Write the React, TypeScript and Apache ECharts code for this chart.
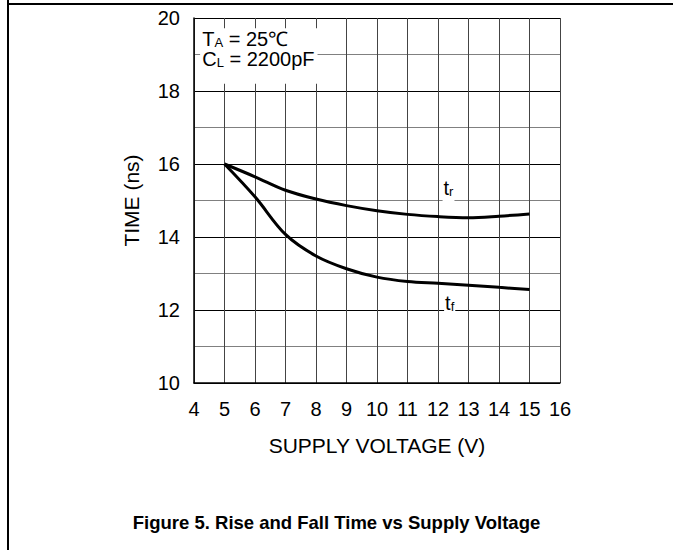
import React, { useEffect, useRef } from 'react';
import * as echarts from 'echarts';

const xMin = 4;
const xMax = 16;
const yMin = 10;
const yMax = 20;
const yTickLabels = [10, 12, 14, 16, 18, 20];

const trData: [number, number][] = [
  [5, 16], [6, 15.65], [7, 15.28], [8, 15.04], [9, 14.86], [10, 14.72],
  [11, 14.62], [12, 14.56], [13, 14.53], [14, 14.57], [15, 14.63],
];
const tfData: [number, number][] = [
  [5, 16], [6, 15.1], [7, 14.07], [8, 13.48], [9, 13.13], [10, 12.9],
  [11, 12.78], [12, 12.73], [13, 12.68], [14, 12.62], [15, 12.56],
];

const titleText = 'Figure 5. Rise and Fall Time vs Supply Voltage';
const xName = 'SUPPLY VOLTAGE (V)';
const yName = 'TIME (ns)';

const FONT = '"Liberation Sans", Arial, Helvetica, sans-serif';

export default function App() {
  const ref = useRef<HTMLDivElement>(null);
  useEffect(() => {
    if (!ref.current) return;
    const chart = echarts.init(ref.current, null, { renderer: 'svg' });
    const option: any = {
      animation: false,
      backgroundColor: '#fff',
      textStyle: { fontFamily: FONT, color: '#000' },
      title: {
        text: titleText,
        left: 'center',
        top: 508,
        textStyle: { fontFamily: FONT, fontSize: 18.5, fontWeight: 'bold', color: '#000' },
      },
      grid: { left: 194, right: 113, top: 18, bottom: 167, containLabel: false },
      xAxis: {
        type: 'value',
        min: xMin,
        max: xMax,
        interval: 1,
        name: xName,
        nameLocation: 'middle',
        nameGap: 52,
        nameTextStyle: { fontFamily: FONT, fontSize: 21, color: '#000' },
        axisLine: { show: true, lineStyle: { color: '#000', width: 1.5 } },
        axisTick: { show: false },
        axisLabel: { fontFamily: FONT, fontSize: 20, color: '#000', margin: 16 },
        splitLine: { show: true, lineStyle: { color: '#444', width: 1 } },
      },
      yAxis: {
        type: 'value',
        min: yMin,
        max: yMax,
        interval: 1,
        name: yName,
        nameLocation: 'middle',
        nameGap: 52,
        nameTextStyle: { fontFamily: FONT, fontSize: 21, color: '#000' },
        axisLine: { show: true, lineStyle: { color: '#000', width: 1.5 } },
        axisTick: { show: false },
        axisLabel: {
          fontFamily: FONT,
          fontSize: 20,
          color: '#000',
          margin: 14,
          formatter: (v: number) => (yTickLabels.includes(v) ? String(v) : ''),
        },
        splitLine: { show: true, lineStyle: { color: ['#000', '#808080'], width: 1 } },
      },
      series: [
        {
          name: 'tr',
          type: 'line',
          data: trData,
          smooth: 0.35,
          symbol: 'none',
          lineStyle: { color: '#000', width: 3 },
          z: 5,
        },
        {
          name: 'tf',
          type: 'line',
          data: tfData,
          smooth: 0.35,
          symbol: 'none',
          lineStyle: { color: '#000', width: 3 },
          z: 5,
        },
      ],
    };
    chart.setOption(option);

    const px = (x: number, y: number) => chart.convertToPixel({ gridIndex: 0 }, [x, y]) as number[];
    const boxTL = px(4.2, 19.72);
    const boxBR = px(8.05, 18.2);
    const annPos = px(4.27, 19.69);
    const trPos = px(12.15, 15);
    const tfPos = px(12.2, 12);

    const rich = {
      a: { fontFamily: FONT, fontSize: 20, lineHeight: 20, color: '#000' },
      b: { fontFamily: FONT, fontSize: 13, lineHeight: 5, color: '#000', verticalAlign: 'bottom' },
    };

    chart.setOption({
      graphic: [
        {
          type: 'line',
          z: 100,
          shape: { x1: 8, y1: 4, x2: 673, y2: 4 },
          style: { stroke: '#000', lineWidth: 2 },
        },
        {
          type: 'line',
          z: 100,
          shape: { x1: 8, y1: 0, x2: 8, y2: 550 },
          style: { stroke: '#000', lineWidth: 2 },
        },
        {
          type: 'rect',
          z: 100,
          shape: { x: boxTL[0], y: boxTL[1], width: boxBR[0] - boxTL[0], height: boxBR[1] - boxTL[1] },
          style: { fill: '#fff' },
        },
        {
          type: 'text',
          z: 101,
          x: annPos[0],
          y: annPos[1],
          style: {
            text: '{a|T}{b|A}{a| = 25℃}\n{a|C}{b|L}{a| = 2200pF}',
            rich,
            textAlign: 'left',
            textVerticalAlign: 'top',
          },
        },
        {
          type: 'text',
          z: 101,
          x: trPos[0],
          y: trPos[1] + 2.5,
          style: {
            text: '{a|t}{b|r}',
            rich,
            textAlign: 'left',
            textVerticalAlign: 'bottom',
            backgroundColor: '#fff',
            padding: [0, 1, 5, 1],
          },
        },
        {
          type: 'text',
          z: 101,
          x: tfPos[0],
          y: tfPos[1] + 3,
          style: {
            text: '{a|t}{b|f}',
            rich,
            textAlign: 'left',
            textVerticalAlign: 'bottom',
            backgroundColor: '#fff',
            padding: [0, 1, 0, 1],
          },
        },
      ],
    });

    return () => chart.dispose();
  }, []);
  return (
    <div
      ref={ref}
      style={{ position: 'absolute', left: 0, top: 0, width: 673, height: 550 }}
    />
  );
}
